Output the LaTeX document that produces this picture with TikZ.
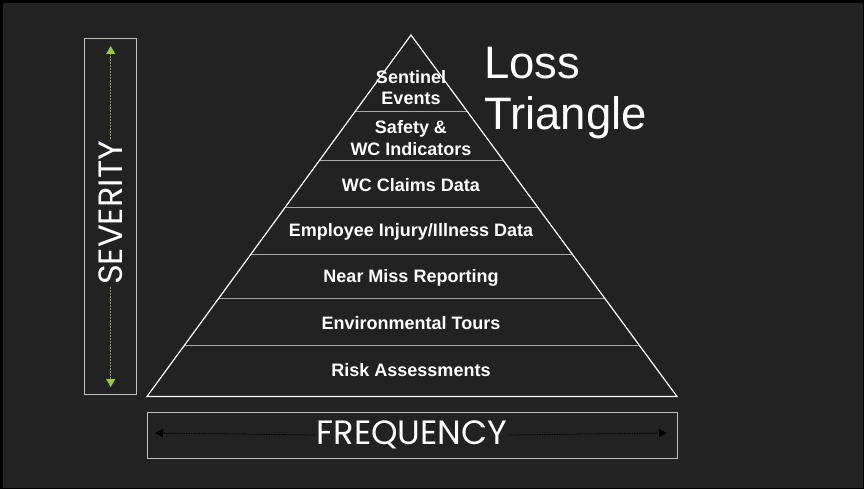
\documentclass[tikz,border=0pt]{standalone}
\usepackage{fontspec}
\setmainfont{Liberation Sans}
\newfontfamily\geofont{Poppins}
\usetikzlibrary{arrows.meta,calc}
\definecolor{bgc}{HTML}{222222}
\definecolor{sepc}{HTML}{A6A6A6}
\definecolor{boxc}{HTML}{BFBFBF}
\definecolor{grn}{HTML}{9BCB3C}
\definecolor{grnd}{HTML}{7E9E3E}
\tikzset{
  layer/.style={text=white,font=\fontsize{18}{21.5}\selectfont\bfseries,align=center,inner sep=0pt},
  sepline/.style={draw=sepc,line width=1pt},
  axisbox/.style={draw=boxc,line width=1pt},
  axislabel/.style={text=white,font=\geofont\fontsize{33.7}{33.7}\selectfont,fill=bgc,inner sep=1.5pt},
}
\begin{document}
\begin{tikzpicture}[x=1pt,y=-1pt]
\useasboundingbox (0,0) rectangle (864,489);
\fill[black] (0,0) rectangle (864,489);
\fill[bgc] (3,3) rectangle (863,488);
% triangle
\coordinate (A) at (411,35);
\coordinate (L) at (147,396.5);
\coordinate (R) at (677,396.5);
\foreach \f in {0.213,0.347,0.476,0.607,0.730,0.858}{
  \draw[sepline] ($(A)!\f!(L)$) -- ($(A)!\f!(R)$);
}
\draw[white,line width=1.2pt,line join=miter] (A) -- (L) -- (R) -- cycle;
% layer labels
\node[layer] (l1) at (411,87.5) {Sentinel\\Events};
\node[layer] (l2) at (411,138) {Safety \&\\WC Indicators};
\node[layer] (l3) at (411,185) {WC Claims Data};
\node[layer] (l4) at (411,232) {Employee Injury/Illness Data};
\node[layer] (l5) at (411,277.5) {Near Miss Reporting};
\node[layer] (l6) at (411,323) {Environmental Tours};
\node[layer] (l7) at (411,370) {Risk Assessments};
% title
\node[text=white,font=\fontsize{45.5}{51.5}\selectfont,align=left,anchor=north west,inner sep=0pt] (title) at (484,46.5) {Loss\\Triangle};
% severity
\draw[axisbox] (84.5,38.7) rectangle (136.5,394.7);
\node[axislabel,rotate=90] (sev) at (110.7,213) {SEVERITY};
\coordinate (sevtop) at (110.7,46);
\coordinate (sevbot) at (110.7,387);
\draw[grnd,line width=0.9pt,dash pattern=on 2pt off 1pt,-{Triangle[width=9pt,length=8pt,fill=grn,color=grn]}] (sev.east) -- (sevtop);
\draw[grnd,line width=0.9pt,dash pattern=on 2pt off 1pt,-{Triangle[width=9pt,length=8pt,fill=grn,color=grn]}] (sev.west) -- (sevbot);
% frequency
\draw[axisbox] (147,412.3) rectangle (677.5,458);
\node[axislabel] (freq) at (412,435) {FREQUENCY};
\coordinate (fl) at (155,433);
\coordinate (fr) at (667,433);
\draw[black,line width=0.8pt,dash pattern=on 1.5pt off 1pt,-{Triangle[width=8pt,length=8pt]}] (freq.west) -- (fl);
\draw[black,line width=0.8pt,dash pattern=on 1.5pt off 1pt,-{Triangle[width=8pt,length=8pt]}] (freq.east) -- (fr);
\end{tikzpicture}
\end{document}
